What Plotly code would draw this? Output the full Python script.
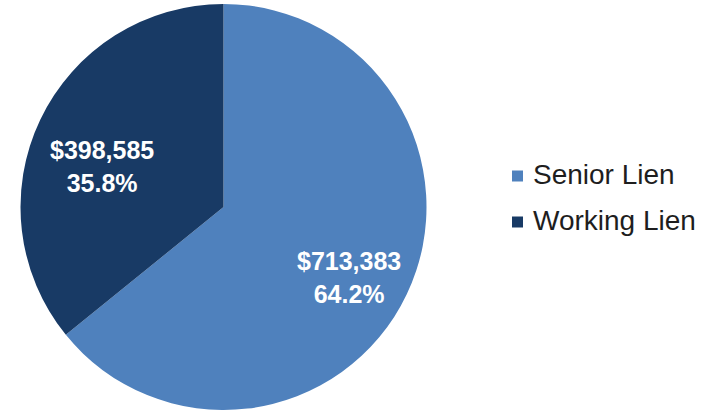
import plotly.graph_objects as go

# Lien balances by category
categories = ["Senior Lien", "Working Lien"]
balances = [713383, 398585]
colors = ["#4F81BD", "#183A65"]

W, H = 708, 412
total = sum(balances)
shares = [v / total for v in balances]

fig = go.Figure(
    go.Pie(
        labels=categories,
        values=balances,
        sort=False,
        direction="clockwise",
        rotation=0,
        marker=dict(colors=colors, line=dict(width=0)),
        textinfo="none",
        hoverinfo="label+value+percent",
        showlegend=False,
        domain=dict(x=[20.5 / W, 426.5 / W], y=[1 - 410 / H, 1 - 4 / H]),
    )
)

# In-slice value labels (pixel positions of label centres)
label_pos = {"Senior Lien": (349, 277), "Working Lien": (102, 167)}
for name, val, share in zip(categories, balances, shares):
    px, py = label_pos[name]
    fig.add_annotation(
        x=px / W, y=1 - py / H, xref="paper", yref="paper",
        text=f"${val:,.0f}<br>{share * 100:.1f}%",
        showarrow=False, xanchor="center", yanchor="middle",
        font=dict(family="Liberation Sans", size=25, color="white", weight="bold"),
        align="center",
    )

# Legend drawn as swatches and text
legend_rows = [176, 222]
for name, col, ry in zip(categories, colors, legend_rows):
    fig.add_shape(
        type="rect", xref="paper", yref="paper",
        x0=512 / W, x1=523 / W, y0=1 - (ry + 5.5) / H, y1=1 - (ry - 5.5) / H,
        fillcolor=col, line=dict(width=0),
    )
    fig.add_annotation(
        x=531 / W, y=1 - (ry - 1.5) / H, xref="paper", yref="paper",
        text=name, showarrow=False, xanchor="left", yanchor="middle",
        font=dict(family="Liberation Sans", size=28, color="#1e1e1e"),
    )

fig.update_layout(
    width=W, height=H,
    margin=dict(l=0, r=0, t=0, b=0),
    paper_bgcolor="white", plot_bgcolor="white",
)

fig.write_html("out.html")
